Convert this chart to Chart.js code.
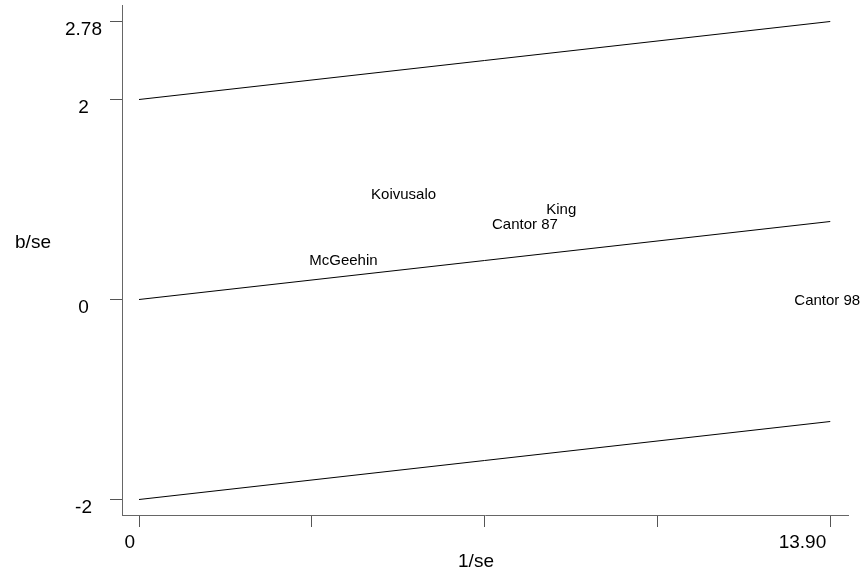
<!DOCTYPE html>
<html>
<head>
<meta charset="utf-8">
<title>Galbraith plot</title>
<script src="https://cdn.jsdelivr.net/npm/chart.js@4.4.1/dist/chart.umd.min.js"></script>
<style>
    html, body { margin: 0; padding: 0; background: #fff; }
    #wrap { width: 861px; height: 573px; }
</style>
</head>
<body>
<div id="wrap"><canvas id="myChart" width="861" height="573"></canvas></div>
<script>
/*********************************************/
// data
var studies = ['Koivusalo', 'King', 'Cantor 87', 'McGeehin', 'Cantor 98'];
var invSe   = [5.32, 8.49, 7.76, 4.11, 13.84];   // 1/se
var zScore  = [1.045, 0.895, 0.745, 0.385, -0.015]; // b/se

var lineX  = [0, 13.90];
var fitY   = [0, 0.78];
var upperY = [2, 2.78];
var lowerY = [-2, -1.22];

var xTicks = [0, 3.475, 6.95, 10.425, 13.90];
var xTickLabels = ['0', '', '', '', '13.90'];
var yTicks = [-2, 0, 2, 2.78];
var yTickLabels = ['-2', '0', '2', '2.78'];

var FONT = "'Liberation Sans', Arial, sans-serif";
/*********************************************/

function toPoints(xs, ys) {
    var out = [];
    for (var i = 0; i < xs.length; i++) {
        out.push({x: xs[i], y: ys[i]});
    }
    return out;
}

function lineSet(ys) {
    return {
        type: 'line',
        data: toPoints(lineX, ys),
        borderColor: '#000',
        borderWidth: 1,
        pointRadius: 0,
        fill: false,
        tension: 0
    };
}

// study names are drawn as the markers, centred on each point
var textMarkers = {
    id: 'textMarkers',
    afterDatasetsDraw: function (chart) {
        var ctx = chart.ctx;
        var meta = chart.getDatasetMeta(3);
        ctx.save();
        ctx.font = '15px ' + FONT;
        ctx.fillStyle = '#000';
        ctx.textAlign = 'center';
        ctx.textBaseline = 'middle';
        meta.data.forEach(function (pt, i) {
            ctx.fillText(studies[i], pt.x, pt.y);
        });
        ctx.restore();
    }
};

// axis titles (b/se sits horizontal, left of the axis)
var axisTitles = {
    id: 'axisTitles',
    afterDraw: function (chart) {
        var ctx = chart.ctx;
        ctx.save();
        ctx.font = '19px ' + FONT;
        ctx.fillStyle = '#000';
        ctx.textAlign = 'center';
        ctx.textBaseline = 'middle';
        ctx.fillText('b/se', 33, 243);
        ctx.fillText('1/se', 476, 562);
        ctx.restore();
    }
};

var ctx = document.getElementById('myChart').getContext('2d');
var chart = new Chart(ctx, {
    type: 'scatter',
    data: {
        datasets: [
            lineSet(upperY),
            lineSet(fitY),
            lineSet(lowerY),
            {
                type: 'scatter',
                data: toPoints(invSe, zScore),
                pointRadius: 0,
                pointHoverRadius: 0
            }
        ]
    },
    options: {
        responsive: false,
        animation: false,
        layout: {
            padding: {top: 5, right: 13, bottom: 0, left: 0}
        },
        plugins: {
            legend: {display: false},
            tooltip: {enabled: false}
        },
        scales: {
            x: {
                type: 'linear',
                min: -0.342,
                max: 14.257,
                afterBuildTicks: function (scale) {
                    scale.ticks = xTicks.map(function (v) { return {value: v}; });
                },
                afterFit: function (scale) {
                    scale.height = 58;
                    scale.paddingLeft = 0;
                    scale.paddingRight = 0;
                },
                ticks: {
                    autoSkip: false,
                    maxRotation: 0,
                    padding: 4,
                    align: 'end',
                    labelOffset: -4,
                    color: '#000',
                    font: {family: FONT, size: 19},
                    callback: function (value, index) {
                        return xTickLabels[index];
                    }
                },
                grid: {
                    drawOnChartArea: false,
                    drawTicks: true,
                    tickLength: 12,
                    color: '#555'
                },
                border: {display: true, color: '#666', width: 1}
            },
            y: {
                type: 'linear',
                min: -2.155,
                max: 2.945,
                afterBuildTicks: function (scale) {
                    scale.ticks = yTicks.map(function (v) { return {value: v}; });
                },
                afterFit: function (scale) {
                    scale.width = 122;
                    scale.paddingTop = 0;
                    scale.paddingBottom = 0;
                },
                ticks: {
                    autoSkip: false,
                    padding: 8,
                    crossAlign: 'center',
                    labelOffset: 8,
                    color: '#000',
                    font: {family: FONT, size: 19},
                    callback: function (value, index) {
                        return yTickLabels[index];
                    }
                },
                grid: {
                    drawOnChartArea: false,
                    drawTicks: true,
                    tickLength: 12,
                    color: '#555'
                },
                border: {display: true, color: '#666', width: 1}
            }
        }
    },
    plugins: [textMarkers, axisTitles]
});
</script>
</body>
</html>
